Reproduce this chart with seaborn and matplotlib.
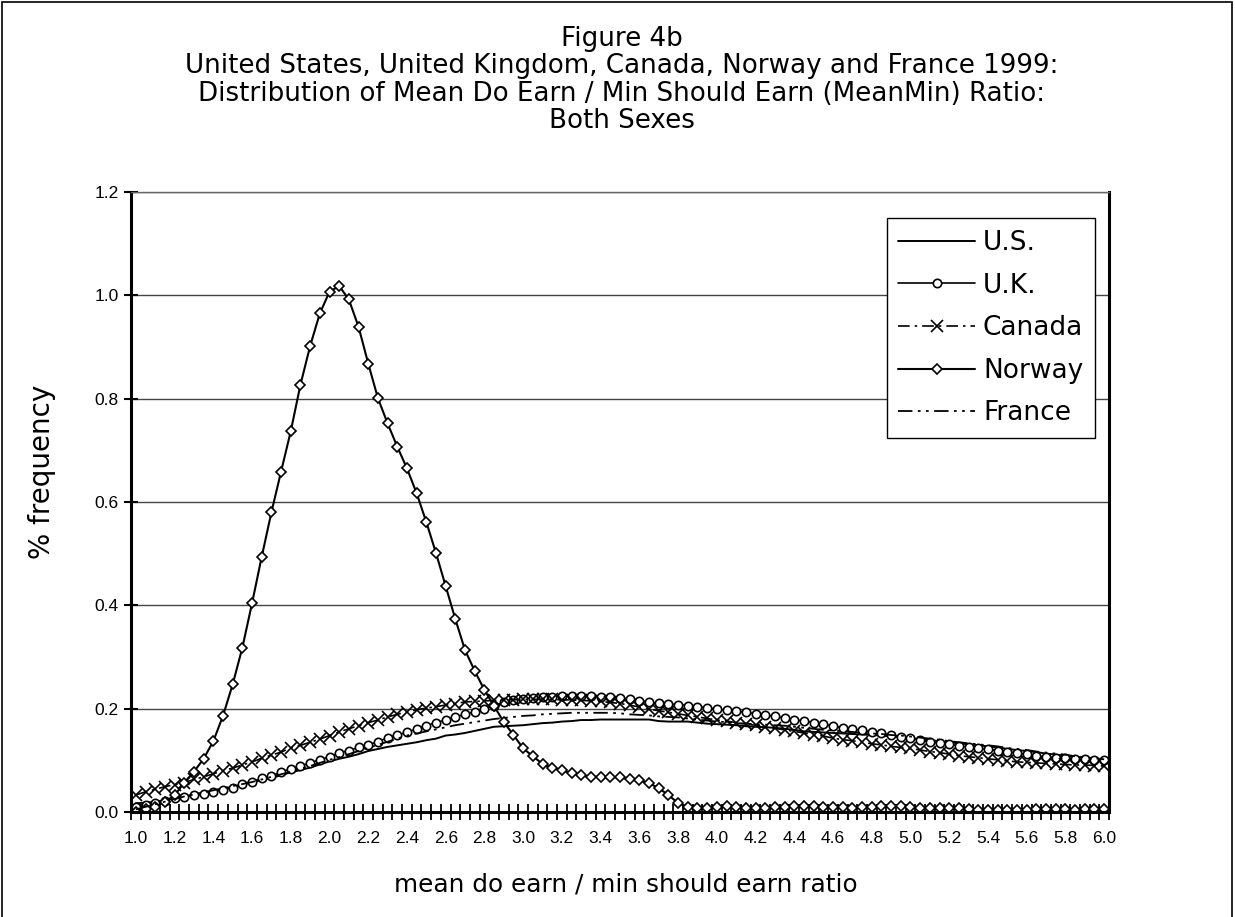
import numpy as np
import pandas as pd
import matplotlib
matplotlib.use("Agg")
import matplotlib.pyplot as plt
from matplotlib.patches import Rectangle
import seaborn as sns

# Ratio categories 1.00 .. 6.00 in steps of 0.05
ratio_labels = [f"{1 + 0.05 * i:.2f}" for i in range(101)]
tick_labels = ["1.0", "1.2", "1.4", "1.6", "1.8", "2.0", "2.2", "2.4", "2.6", "2.8",
               "3.0", "3.2", "3.4", "3.6", "3.8", "4.0", "4.2", "4.4", "4.6", "4.8",
               "5.0", "5.2", "5.4", "5.6", "5.8", "6.0"]

us = [0.017, 0.018, 0.020, 0.023, 0.027, 0.030, 0.034, 0.037, 0.041, 0.045,
      0.049, 0.053, 0.057, 0.062, 0.066, 0.071, 0.077, 0.081, 0.086, 0.092,
      0.098, 0.103, 0.107, 0.112, 0.118, 0.122, 0.126, 0.129, 0.132, 0.135,
      0.139, 0.142, 0.148, 0.150, 0.153, 0.157, 0.161, 0.165, 0.166, 0.167,
      0.168, 0.170, 0.172, 0.173, 0.175, 0.176, 0.178, 0.178, 0.179, 0.179,
      0.179, 0.179, 0.179, 0.179, 0.176, 0.175, 0.175, 0.175, 0.173, 0.171,
      0.170, 0.169, 0.168, 0.166, 0.165, 0.164, 0.163, 0.161, 0.159, 0.156,
      0.155, 0.154, 0.153, 0.152, 0.151, 0.150, 0.149, 0.148, 0.146, 0.145,
      0.143, 0.141, 0.139, 0.137, 0.135, 0.133, 0.131, 0.129, 0.127, 0.125,
      0.122, 0.120, 0.118, 0.116, 0.113, 0.111, 0.109, 0.107, 0.105, 0.103,
      0.101]

uk = [0.010, 0.014, 0.018, 0.022, 0.027, 0.030, 0.032, 0.034, 0.038, 0.043,
      0.047, 0.055, 0.059, 0.065, 0.070, 0.077, 0.084, 0.089, 0.095, 0.101,
      0.107, 0.114, 0.119, 0.125, 0.130, 0.136, 0.144, 0.149, 0.154, 0.161,
      0.167, 0.173, 0.178, 0.184, 0.189, 0.194, 0.199, 0.206, 0.212, 0.216,
      0.219, 0.221, 0.222, 0.223, 0.224, 0.224, 0.224, 0.224, 0.223, 0.222,
      0.220, 0.218, 0.215, 0.213, 0.211, 0.209, 0.208, 0.206, 0.204, 0.202,
      0.199, 0.197, 0.195, 0.193, 0.190, 0.188, 0.185, 0.182, 0.179, 0.176,
      0.173, 0.170, 0.166, 0.163, 0.161, 0.158, 0.155, 0.152, 0.149, 0.146,
      0.143, 0.139, 0.136, 0.133, 0.131, 0.128, 0.126, 0.123, 0.121, 0.119,
      0.117, 0.114, 0.112, 0.109, 0.107, 0.105, 0.104, 0.103, 0.102, 0.101,
      0.100]

canada = [0.033, 0.039, 0.044, 0.049, 0.053, 0.057, 0.063, 0.068, 0.074, 0.080,
          0.085, 0.091, 0.097, 0.104, 0.110, 0.116, 0.124, 0.129, 0.135, 0.141,
          0.148, 0.155, 0.161, 0.167, 0.173, 0.178, 0.184, 0.189, 0.194, 0.198,
          0.201, 0.204, 0.207, 0.210, 0.213, 0.214, 0.215, 0.216, 0.217, 0.217,
          0.218, 0.218, 0.218, 0.218, 0.217, 0.217, 0.216, 0.215, 0.214, 0.212,
          0.210, 0.207, 0.203, 0.199, 0.196, 0.193, 0.190, 0.187, 0.184, 0.181,
          0.178, 0.176, 0.173, 0.170, 0.168, 0.165, 0.162, 0.159, 0.156, 0.153,
          0.150, 0.147, 0.143, 0.140, 0.138, 0.135, 0.132, 0.130, 0.127, 0.125,
          0.123, 0.120, 0.117, 0.115, 0.112, 0.109, 0.107, 0.105, 0.103, 0.101,
          0.099, 0.097, 0.096, 0.095, 0.094, 0.093, 0.092, 0.091, 0.091, 0.090,
          0.089]

norway = [0.000, 0.005, 0.010, 0.020, 0.032, 0.057, 0.078, 0.103, 0.137, 0.186,
          0.247, 0.318, 0.404, 0.494, 0.580, 0.659, 0.737, 0.827, 0.902, 0.965,
          1.007, 1.018, 0.992, 0.939, 0.868, 0.801, 0.752, 0.707, 0.665, 0.617,
          0.561, 0.501, 0.437, 0.373, 0.313, 0.273, 0.236, 0.205, 0.174, 0.149,
          0.123, 0.108, 0.093, 0.085, 0.081, 0.075, 0.071, 0.068, 0.068, 0.067,
          0.067, 0.063, 0.061, 0.056, 0.046, 0.033, 0.017, 0.010, 0.008, 0.008,
          0.010, 0.011, 0.009, 0.008, 0.008, 0.008, 0.009, 0.010, 0.011, 0.011,
          0.011, 0.010, 0.010, 0.009, 0.008, 0.009, 0.010, 0.011, 0.012, 0.011,
          0.009, 0.008, 0.007, 0.008, 0.008, 0.007, 0.005, 0.004, 0.003, 0.003,
          0.003, 0.003, 0.004, 0.005, 0.005, 0.005, 0.005, 0.004, 0.005, 0.005,
          0.005]

france = [0.005, 0.010, 0.015, 0.020, 0.025, 0.030, 0.034, 0.038, 0.042, 0.046,
          0.050, 0.054, 0.058, 0.063, 0.068, 0.073, 0.078, 0.084, 0.089, 0.095,
          0.101, 0.106, 0.112, 0.118, 0.124, 0.130, 0.136, 0.142, 0.148, 0.152,
          0.156, 0.160, 0.164, 0.168, 0.171, 0.174, 0.177, 0.180, 0.182, 0.184,
          0.186, 0.187, 0.189, 0.190, 0.191, 0.192, 0.192, 0.192, 0.192, 0.192,
          0.191, 0.189, 0.188, 0.187, 0.185, 0.184, 0.183, 0.181, 0.179, 0.177,
          0.175, 0.174, 0.172, 0.171, 0.170, 0.169, 0.168, 0.167, 0.165, 0.163,
          0.161, 0.159, 0.158, 0.156, 0.155, 0.153, 0.152, 0.151, 0.149, 0.148,
          0.146, 0.144, 0.142, 0.140, 0.137, 0.135, 0.133, 0.131, 0.129, 0.127,
          0.124, 0.122, 0.120, 0.117, 0.115, 0.113, 0.111, 0.108, 0.106, 0.104,
          0.102]

for s in (us, uk, canada, norway, france):
    assert len(s) == len(ratio_labels)

sns.set_theme(style="white")
plt.rcParams["font.family"] = ["Liberation Sans", "DejaVu Sans"]
plt.rcParams["text.color"] = "black"
plt.rcParams["xtick.color"] = "black"
plt.rcParams["ytick.color"] = "black"
plt.rcParams["axes.labelcolor"] = "black"

WIDE = ["DejaVu Sans"]

fig = plt.figure(figsize=(12.35, 9.17), dpi=100)
ax = fig.add_axes([131 / 1235, 1 - 812 / 917, (1109 - 131) / 1235, (812 - 192) / 917])

pos = np.arange(len(ratio_labels))
series = [
    ("U.S.", us, dict(linestyle="-", lw=1.4)),
    ("U.K.", uk, dict(linestyle="-", lw=1.2, marker="o", markersize=6,
                      markerfacecolor="white", markeredgecolor="black", markeredgewidth=1.2)),
    ("Canada", canada, dict(linestyle=(0, (7, 3, 1.5, 3)), lw=1.2, marker="x", markersize=8,
                            markeredgecolor="black", markeredgewidth=1.2)),
    ("Norway", norway, dict(linestyle="-", lw=1.5, marker="D", markersize=5.5,
                            markerfacecolor="white", markeredgecolor="black", markeredgewidth=1.2)),
    ("France", france, dict(linestyle=(0, (8, 3, 1.5, 3, 1.5, 3)), lw=1.3)),
]
for name, vals, style in series:
    sns.lineplot(x=pos, y=vals, ax=ax, color="black", label=name, **style)

# Axes limits, grid and ticks
ax.set_xlim(-0.5, len(ratio_labels) - 0.5)
ax.set_ylim(0, 1.2)
ax.set_yticks(np.arange(0, 1.21, 0.2))
ax.set_yticklabels([f"{v:.1f}" for v in np.arange(0, 1.21, 0.2)], fontsize=12.5)
ax.set_xticks(pos[::4])
ax.set_xticklabels(tick_labels, fontsize=12.5)
ax.set_xticks(np.arange(-0.5, len(ratio_labels), 1.0), minor=True)
ax.tick_params(axis="x", which="major", length=0, pad=14)
ax.tick_params(axis="x", which="minor", direction="inout", length=11, width=1.3, color="black", bottom=True)
ax.tick_params(axis="y", which="major", direction="inout", length=10, width=1.5, color="black",
               left=True, pad=4)
ax.yaxis.grid(True, color="#444444", lw=1.0)
ax.xaxis.grid(False)
ax.set_axisbelow(True)
for side, sp in ax.spines.items():
    sp.set_visible(True)
    sp.set_color("black")
    sp.set_linewidth(2.2 if side in ("left", "bottom", "right") else 1.0)
ax.spines["top"].set_color("#666666")

ax.set_xlabel("")
ax.set_ylabel("")
fig.text(626 / 1235, 1 - 885 / 917, "mean do earn / min should earn ratio",
         ha="center", va="center", fontsize=17.8, family=WIDE)
fig.text(42 / 1235, 1 - 472 / 917, "% frequency", ha="center", va="center",
         rotation=90, fontsize=20, family=WIDE)

title_lines = [
    "Figure 4b",
    "United States, United Kingdom, Canada, Norway and France 1999:",
    "Distribution of Mean Do Earn / Min Should Earn (MeanMin) Ratio:",
    "Both Sexes",
]
for k, line in enumerate(title_lines):
    fig.text(622 / 1235, 1 - (39 + 27.3 * k) / 917, line, ha="center", va="center",
             fontsize=18.8, family=WIDE)

leg = ax.legend(loc="upper right", bbox_to_anchor=((1095 - 131) / 978, (812 - 218) / 620),
                prop={"family": WIDE, "size": 19}, frameon=True, fancybox=False,
                handlelength=2.9, handletextpad=0.3, labelspacing=0.63, borderpad=0.45,
                borderaxespad=0)
leg.get_frame().set_edgecolor("black")
leg.get_frame().set_linewidth(1.0)
leg.get_frame().set_alpha(1)
for h in leg.legend_handles:
    h.set_color("black")
    if h.get_marker() not in (None, "None", ""):
        h.set_markevery([1])

# Outer chart border
fig.patches.append(Rectangle((2 / 1235, -0.02), 1230 / 1235, 1.0 - 2 / 917 + 0.02,
                             transform=fig.transFigure, fill=False, edgecolor="black", lw=1.2))

fig.savefig("out.png", dpi=100)
